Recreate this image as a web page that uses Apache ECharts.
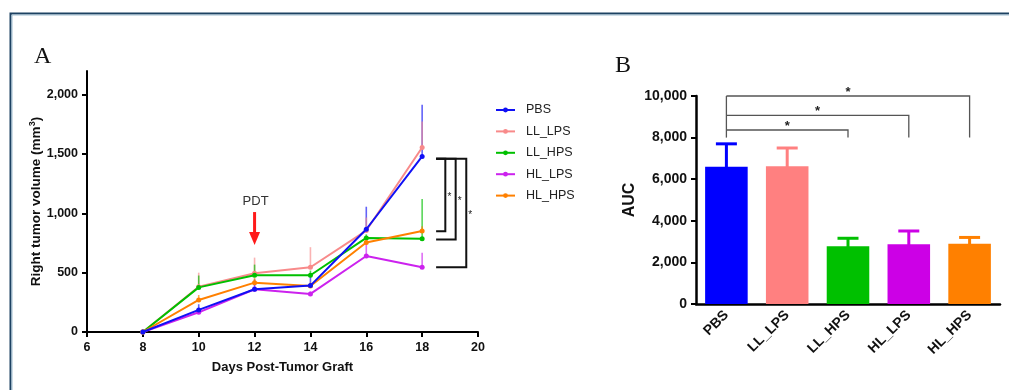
<!DOCTYPE html>
<html><head><meta charset="utf-8">
<script src="https://cdn.jsdelivr.net/npm/echarts@6/dist/echarts.min.js"></script>
<style>html,body{margin:0;padding:0;background:#fff}#c{width:1009px;height:390px}</style>
</head><body><div id="c"></div>
<script>
// ---------- Panel A data ----------
const days = [8, 10, 12, 14, 16, 18];
const groupNames = ['PBS', 'LL_LPS', 'LL_HPS', 'HL_LPS', 'HL_HPS'];
const volPBS    = [0, 186, 360, 391, 866, 1480];
const volLL_LPS = [0, 382, 495, 546, 855, 1555];
const volLL_HPS = [0, 376, 478, 478, 793, 785];
const volHL_LPS = [0, 166, 360, 321, 641, 546];
const volHL_HPS = [0, 270, 416, 388, 754, 852];
const errPBS    = [0, 48, 84, 90, 190, 435];
const errLL_LPS = [0, 118, 132, 169, 110, 220];
const errLL_HPS = [0, 100, 90, 40, 30, 337];
const errHL_LPS = [0, 20, 30, 20, 110, 121];
const errHL_HPS = [0, 42, 40, 30, 40, 40];
const yTicksA = [0, 500, 1000, 1500, 2000];
const xTicksA = [6, 8, 10, 12, 14, 16, 18, 20];
// significance brackets, panel A (day 18 comparisons)
const sigATop = 1460;
const sigABottoms = [850, 780, 546];
const sigAXs = [18.83, 19.2, 19.58];
const sigAStart = 18.5;
// PDT arrow
const pdtDay = 12;
const pdtArrow = [1011, 733];  // from, to (volume units)
const pdtLabelY = 1104;

// ---------- Panel B data ----------
const aucGroups = ['PBS', 'LL_LPS', 'LL_HPS', 'HL_LPS', 'HL_HPS'];
const aucValues = [6600, 6620, 2780, 2870, 2900];
const aucErrors = [1100, 880, 380, 640, 300];
const yTicksB = [0, 2000, 4000, 6000, 8000, 10000];
// brackets: [fromIndex, toIndex, level, drop]
const sigB = [[0, 2, 8365, 8000], [0, 3, 9070, 8000], [0, 4, 10000, 8000]];

const colors = ['#1010f5', '#f88a8a', '#00c000', '#cc22ee', '#ff8000'];
const barColors = ['#0000ff', '#ff8080', '#00c000', '#cc00e6', '#ff8000'];
const vols = [volPBS, volLL_LPS, volLL_HPS, volHL_LPS, volHL_HPS];
const errs = [errPBS, errLL_LPS, errLL_HPS, errHL_LPS, errHL_HPS];

const FONT = "'Liberation Sans', Arial, sans-serif";
const fmt = v => v.toLocaleString('en-US');

const series = [];
// error bars A
groupNames.forEach((n, g) => {
  series.push({
    type: 'custom', xAxisIndex: 0, yAxisIndex: 0, z: 1, silent: true,
    data: days.map((d, i) => [d, vols[g][i], errs[g][i]]),
    renderItem: (params, api) => {
      const e = api.value(2);
      if (!e) return null;
      const p0 = api.coord([api.value(0), api.value(1)]);
      const p1 = api.coord([api.value(0), api.value(1) + e]);
      return { type: 'line', shape: { x1: p0[0], y1: p0[1], x2: p1[0], y2: p1[1] },
        style: { stroke: colors[g], lineWidth: 1.6, opacity: 0.65 } };
    }
  });
});
// lines A (PBS drawn on top)
groupNames.forEach((n, g) => {
  series.push({
    name: n, type: 'line', xAxisIndex: 0, yAxisIndex: 0,
    z: g === 0 ? 4 : 3,
    data: days.map((d, i) => [d, vols[g][i]]),
    symbol: 'circle', symbolSize: 5, showSymbol: true,
    lineStyle: { color: colors[g], width: 2 },
    itemStyle: { color: colors[g] },
    emphasis: { disabled: true }, animation: false
  });
});
// brackets A
series.push({
  type: 'custom', xAxisIndex: 0, yAxisIndex: 0, z: 5, silent: true,
  data: sigABottoms.map((b, i) => [sigAXs[i], b]),
  renderItem: (params, api) => {
    const xr = api.value(0), bot = api.value(1);
    const a = api.coord([sigAStart, sigATop]);
    const b = api.coord([xr, sigATop]);
    const c = api.coord([xr, bot]);
    const d = api.coord([sigAStart, bot]);
    return { type: 'group', children: [
      { type: 'polyline', shape: { points: [a, b, c, d] }, style: { stroke: '#111', lineWidth: 2, fill: null } },
      { type: 'text', x: b[0] + 4, y: (b[1] + c[1]) / 2 + 2,
        style: { text: '*', fontSize: 10, fontFamily: FONT, fill: '#222', align: 'center', verticalAlign: 'middle' } }
    ] };
  }
});
// PDT arrow
series.push({
  type: 'custom', xAxisIndex: 0, yAxisIndex: 0, z: 5, silent: true,
  data: [[pdtDay, pdtArrow[0], pdtArrow[1], pdtLabelY]],
  renderItem: (params, api) => {
    const top = api.coord([api.value(0), api.value(1)]);
    const tip = api.coord([api.value(0), api.value(2)]);
    const lab = api.coord([api.value(0), api.value(3)]);
    const headH = 13;
    return { type: 'group', children: [
      { type: 'rect', shape: { x: top[0] - 1.5, y: top[1], width: 3, height: tip[1] - top[1] - headH + 1 }, style: { fill: '#ff1a1a' } },
      { type: 'polygon', shape: { points: [[tip[0] - 5.5, tip[1] - headH], [tip[0] + 5.5, tip[1] - headH], [tip[0], tip[1]]] }, style: { fill: '#ff1a1a' } },
      { type: 'text', x: lab[0] + 1, y: lab[1], style: { text: 'PDT', fontSize: 13, fontFamily: FONT, fill: '#333', align: 'center', verticalAlign: 'middle' } }
    ] };
  }
});
// bars B
series.push({
  type: 'bar', xAxisIndex: 1, yAxisIndex: 1, barWidth: '70%', z: 2,
  data: aucValues.map((v, i) => ({ value: v, itemStyle: { color: barColors[i] } })),
  emphasis: { disabled: true }, animation: false
});
// error bars B
series.push({
  type: 'custom', xAxisIndex: 1, yAxisIndex: 1, z: 3, silent: true,
  data: aucValues.map((v, i) => [i, v, aucErrors[i]]),
  renderItem: (params, api) => {
    const i = params.dataIndex;
    const p0 = api.coord([api.value(0), api.value(1)]);
    const p1 = api.coord([api.value(0), api.value(1) + api.value(2)]);
    const st = { stroke: barColors[i], lineWidth: 3 };
    return { type: 'group', children: [
      { type: 'line', shape: { x1: p0[0], y1: p0[1] + 2, x2: p1[0], y2: p1[1] }, style: st },
      { type: 'line', shape: { x1: p1[0] - 10.5, y1: p1[1], x2: p1[0] + 10.5, y2: p1[1] }, style: st }
    ] };
  }
});
// brackets B
series.push({
  type: 'custom', xAxisIndex: 1, yAxisIndex: 1, z: 4, silent: true,
  data: sigB,
  renderItem: (params, api) => {
    const from = api.value(0), to = api.value(1), lvl = api.value(2), drop = api.value(3);
    const a = api.coord([from, lvl]);
    const b = api.coord([to, lvl]);
    const c = api.coord([to, drop]);
    const children = [
      { type: 'polyline', shape: { points: [a, b, c] }, style: { stroke: '#555', lineWidth: 1.3, fill: null } },
      { type: 'text', x: (a[0] + b[0]) / 2, y: a[1] + 3,
        style: { text: '*', fontSize: 13, fontWeight: 'bold', fontFamily: FONT, fill: '#222', align: 'center', verticalAlign: 'bottom' } }
    ];
    if (params.dataIndex === sigB.length - 1) {
      const l0 = api.coord([from, drop]);
      children.push({ type: 'line', shape: { x1: a[0], y1: a[1], x2: l0[0], y2: l0[1] }, style: { stroke: '#555', lineWidth: 1.3 } });
    }
    return { type: 'group', children };
  }
});

const option = {
  animation: false,
  backgroundColor: '#fff',
  textStyle: { fontFamily: FONT },
  graphic: [
    { type: 'rect', shape: { x: 10.5, y: 13.5, width: 1200, height: 600 }, style: { fill: null, stroke: '#1d4262', lineWidth: 2 }, z: 100 },
    { type: 'rect', shape: { x: 12, y: 15, width: 1200, height: 600 }, style: { fill: null, stroke: '#9fbdd0', lineWidth: 1 }, z: 100 },
    { type: 'text', left: 34, top: 45, style: { text: 'A', fontSize: 24, fontFamily: "'Liberation Serif', 'Times New Roman', serif", fill: '#111' } },
    { type: 'text', left: 615, top: 54, style: { text: 'B', fontSize: 24, fontFamily: "'Liberation Serif', 'Times New Roman', serif", fill: '#111' } }
  ],
  legend: {
    data: groupNames, orient: 'vertical', left: 490, top: 98,
    itemWidth: 19, itemHeight: 6, itemGap: 7.4,
    textStyle: { fontSize: 12.5, color: '#222', fontFamily: FONT, lineHeight: 14, padding: [0, 0, 0, 6] },
    selectedMode: false
  },
  grid: [
    { left: 87, top: 71, width: 391, height: 261 },
    { left: 696, top: 96, width: 304, height: 208 }
  ],
  xAxis: [
    { type: 'value', gridIndex: 0, min: 6, max: 20, interval: 2,
      name: 'Days Post-Tumor Graft', nameLocation: 'middle', nameGap: 29,
      nameTextStyle: { fontSize: 13, fontWeight: 'bold', color: '#111', fontFamily: FONT },
      axisLine: { lineStyle: { color: '#000', width: 2 } },
      axisTick: { length: 5, lineStyle: { color: '#000', width: 2 } },
      axisLabel: { fontSize: 12.5, fontWeight: 'bold', color: '#111', margin: 9, fontFamily: FONT },
      splitLine: { show: false } },
    { type: 'category', gridIndex: 1, data: aucGroups,
      axisLine: { lineStyle: { color: '#000', width: 2.5 } },
      axisTick: { alignWithLabel: true, length: 5, lineStyle: { color: '#000', width: 2 } },
      axisLabel: { rotate: 45, fontSize: 14, fontWeight: 'bold', color: '#111', margin: 9, fontFamily: FONT } }
  ],
  yAxis: [
    { type: 'value', gridIndex: 0, min: 0, max: 2200,
      name: 'Right tumor volume (mm{sup|3})', nameLocation: 'middle', nameGap: 42,
      nameTextStyle: { fontSize: 13.5, fontWeight: 'bold', color: '#111', fontFamily: FONT,
        rich: { sup: { fontSize: 9, fontWeight: 'bold', color: '#111', verticalAlign: 'top', padding: [0, 0, 6, 0] } } },
      axisLine: { show: true, lineStyle: { color: '#000', width: 2 } },
      axisTick: { show: true, length: 5, customValues: yTicksA, lineStyle: { color: '#000', width: 2 } },
      axisLabel: { customValues: yTicksA, fontSize: 12.5, fontWeight: 'bold', color: '#111', margin: 9, formatter: fmt, fontFamily: FONT },
      splitLine: { show: false } },
    { type: 'value', gridIndex: 1, min: 0, max: 10000, interval: 2000,
      name: 'AUC', nameLocation: 'middle', nameGap: 58,
      nameTextStyle: { fontSize: 16, fontWeight: 'bold', color: '#111', fontFamily: FONT },
      axisLine: { show: true, lineStyle: { color: '#000', width: 2.5 } },
      axisTick: { show: true, length: 5, lineStyle: { color: '#000', width: 2 } },
      axisLabel: { fontSize: 14, fontWeight: 'bold', color: '#111', margin: 9, formatter: fmt, fontFamily: FONT },
      splitLine: { show: false } }
  ],
  series
};
const chart = echarts.init(document.getElementById('c'), null, { renderer: 'canvas' });
chart.setOption(option);
</script></body></html>
